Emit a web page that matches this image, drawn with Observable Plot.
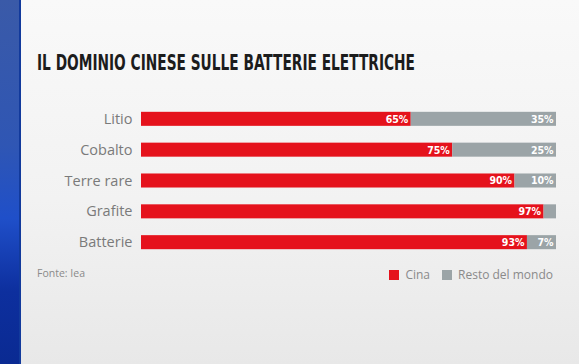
<!DOCTYPE html>
<html>
<head>
<meta charset="utf-8">
<script src="https://cdn.jsdelivr.net/npm/d3@7"></script>
<script src="https://cdn.jsdelivr.net/npm/@observablehq/plot@0.6"></script>
<style>
  html, body { margin: 0; padding: 0; }
  body { width: 579px; height: 364px; overflow: hidden; position: relative;
         background: linear-gradient(180deg, #f9f9f9 0%, #f2f2f2 55%, #e8e8e8 100%); font-family: "Open Sans", sans-serif; }
  #strip { position: absolute; left: 0; top: 0; width: 19px; height: 364px;
           background: linear-gradient(180deg, #3a5aa8 0%, #2f56b4 40%, #1f4fc9 60%, #0d2f9e 80%, #0a2a92 100%);
           border-right: 2px solid #123a9c; }
  #title { position: absolute; left: 37px; top: 50px; white-space: nowrap;
           font-family: "DejaVu Sans Condensed", "Liberation Sans Narrow", sans-serif; font-weight: bold;
           font-size: 22px; color: #1c1c1c; transform-origin: 0 50%; }
  #chart { position: absolute; left: 0; top: 90px; }
  #source { position: absolute; left: 37px; top: 266px; font-size: 10.5px; color: #8a8a8a; }
  #legend { position: absolute; right: 14px; top: 258px; }
</style>
</head>
<body>
<div id="strip"></div>
<div id="title">IL DOMINIO CINESE SULLE BATTERIE ELETTRICHE</div>
<div id="chart"></div>
<div id="source">Fonte: Iea</div>
<div id="legend"></div>
<script>
const categories = ["Litio", "Cobalto", "Terre rare", "Grafite", "Batterie"];
const groups = ["Cina", "Resto del mondo"];
const cina = [65, 75, 90, 97, 93];
const resto = [35, 25, 10, 3, 7];
const colors = ["#e5121c", "#9ba4a7"];

const data = [];
categories.forEach((c, i) => {
  data.push({cat: c, group: groups[0], value: cina[i]});
  data.push({cat: c, group: groups[1], value: resto[i]});
});
const labelled = data.filter(d => d.value >= 5);

const plot = Plot.plot({
  width: 579,
  height: 176,
  marginLeft: 141,
  marginRight: 23,
  marginTop: 5,
  marginBottom: 0,
  style: {background: "transparent", overflow: "visible"},
  x: {domain: [0, 100], axis: null},
  y: {domain: categories, padding: 0.545, round: false, label: null},
  color: {domain: groups, range: colors},
  marks: [
    Plot.barX(data, Plot.stackX({x: "value", y: "cat", fill: "group", order: groups})),
    Plot.text(labelled, Plot.stackX2({x: "value", y: "cat", z: "group", order: groups,
      text: d => d.value + "%", textAnchor: "end", dx: -3, fill: "white",
      fontFamily: "'DejaVu Sans Condensed', sans-serif", fontWeight: "bold", fontSize: 10.5})),
    Plot.axisY({tickSize: 0, tickPadding: 9, fontSize: 14.5, fill: "#7a7a7a",
      fontFamily: "Open Sans", label: null})
  ]
});
document.getElementById("chart").appendChild(plot);

const leg = Plot.legend({
  color: {domain: groups, range: colors},
  legend: "swatches",
  swatchSize: 10,
  style: {fontSize: "12px", color: "#8a8a8a", fontFamily: "Open Sans", background: "transparent"}
});
document.getElementById("legend").appendChild(leg);

// fit title width to the reference's span
const t = document.getElementById("title");
const w = t.getBoundingClientRect().width;
t.style.transform = `scaleX(${378 / w})`;
</script>
</body>
</html>
